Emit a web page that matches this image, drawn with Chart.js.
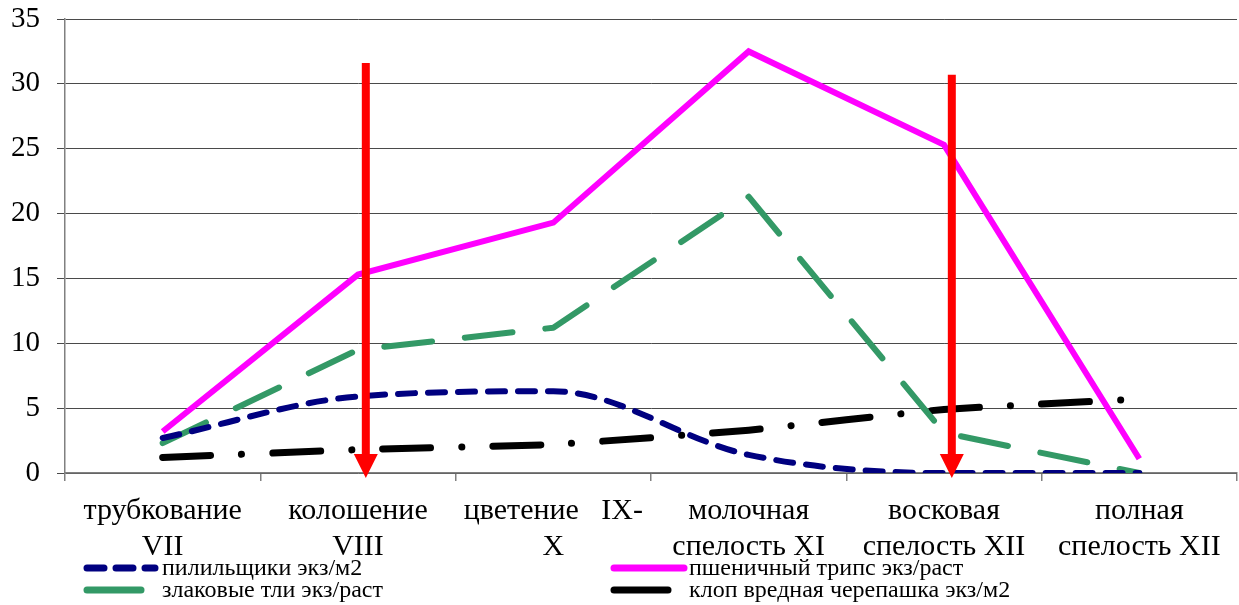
<!DOCTYPE html>
<html lang="ru">
<head>
<meta charset="utf-8">
<title>Динамика численности вредителей пшеницы по фазам развития</title>
<script src="https://cdn.jsdelivr.net/npm/chart.js@4.4.1/dist/chart.umd.min.js"></script>
<style>
  html, body { margin: 0; padding: 0; background: #fff; }
  canvas { display: block; }
</style>
</head>
<body>
<canvas id="chart" width="1239" height="605"></canvas>
<script>
// Фазы развития растений (подписи оси X, многострочные)
const phases = [
  ['трубкование', 'VII'],
  ['колошение', 'VIII'],
  ['цветение   IX-', 'X'],
  ['молочная', 'спелость XI'],
  ['восковая', 'спелость XII'],
  ['полная', 'спелость XII']
];

// Численность вредителей по фазам
const sawflies = [2.7, 5.9, 6.3, 1.4, 0, 0];           // пилильщики экз/м2
const aphids   = [2.3, 9.5, 11.2, 21.3, 3.1, 0];       // злаковые тли экз/раст
const thrips   = [3.2, 15.3, 19.3, 32.5, 25.3, 1.1];   // пшеничный трипс экз/раст
const shieldBug = [1.2, 1.8, 2.2, 3.3, 4.9, 5.7];      // клоп вредная черепашка экз/м2

// Значения делений оси Y
const yTicks = [0, 5, 10, 15, 20, 25, 30, 35];

// Сроки обработок: фаза (индекс, со сдвигом) и верх стрелки по шкале Y
const treatmentPhase = [1.04, 4.04];
const treatmentTop   = [31.6, 30.7];

const serif = "'Liberation Serif', 'Times New Roman', serif";

// Стрелки обработок поверх линий
const arrowsPlugin = {
  id: 'treatmentArrows',
  afterDatasetsDraw(chart) {
    const { ctx, scales: { x, y } } = chart;
    ctx.save();
    treatmentPhase.forEach((p, i) => {
      const px = x.getPixelForValue(p);
      const top = y.getPixelForValue(treatmentTop[i]);
      const tip = y.getPixelForValue(0) + 5;
      const headH = 24, headW = 12;
      ctx.strokeStyle = '#ff0000';
      ctx.fillStyle = '#ff0000';
      ctx.lineWidth = 8;
      ctx.lineCap = 'butt';
      ctx.beginPath();
      ctx.moveTo(px, top);
      ctx.lineTo(px, tip - headH + 2);
      ctx.stroke();
      ctx.beginPath();
      ctx.moveTo(px - headW, tip - headH);
      ctx.lineTo(px + headW, tip - headH);
      ctx.lineTo(px, tip);
      ctx.closePath();
      ctx.fill();
    });
    ctx.restore();
  }
};

// Легенда в две колонки под осью X
const legendPlugin = {
  id: 'twoColumnLegend',
  afterDraw(chart) {
    const { ctx } = chart;
    const ds = chart.data.datasets;
    const slots = [
      { idx: 0, x: 87, y: 568, len: 68 },
      { idx: 1, x: 87, y: 590, len: 54 },
      { idx: 2, x: 614, y: 568, len: 70 },
      { idx: 3, x: 614, y: 590, len: 54 }
    ];
    ctx.save();
    slots.forEach(s => {
      const d = ds[s.idx];
      ctx.strokeStyle = d.borderColor;
      ctx.lineWidth = 7;
      ctx.lineCap = 'round';
      ctx.setLineDash(d.legendDash || []);
      ctx.beginPath();
      ctx.moveTo(s.x, s.y);
      ctx.lineTo(s.x + s.len, s.y);
      ctx.stroke();
      ctx.setLineDash([]);
      ctx.fillStyle = '#000';
      ctx.font = '24px ' + serif;
      ctx.textBaseline = 'middle';
      ctx.textAlign = 'left';
      ctx.fillText(d.label, s.x + 75, s.y + 1);
    });
    ctx.restore();
  }
};

new Chart(document.getElementById('chart'), {
  type: 'line',
  data: {
    labels: phases,
    datasets: [
      {
        label: 'пилильщики экз/м2',
        data: sawflies,
        borderColor: '#000080',
        borderWidth: 6,
        borderDash: [17, 13],
        legendDash: [17, 12],
        borderCapStyle: 'round',
        borderJoinStyle: 'round',
        tension: 0.4,
        cubicInterpolationMode: 'monotone',
        pointRadius: 0,
        order: 1
      },
      {
        label: 'злаковые тли экз/раст',
        data: aphids,
        borderColor: '#339966',
        borderWidth: 6,
        borderDash: [48, 33],
        borderCapStyle: 'round',
        borderJoinStyle: 'round',
        tension: 0,
        pointRadius: 0,
        order: 3
      },
      {
        label: 'пшеничный трипс экз/раст',
        data: thrips,
        borderColor: '#ff00ff',
        borderWidth: 6,
        borderCapStyle: 'butt',
        borderJoinStyle: 'miter',
        tension: 0,
        pointRadius: 0,
        order: 2
      },
      {
        label: 'клоп вредная черепашка экз/м2',
        data: shieldBug,
        borderColor: '#000000',
        borderWidth: 7,
        borderDash: [48, 31, 0.1, 31],
        borderCapStyle: 'round',
        borderJoinStyle: 'round',
        tension: 0.1,
        pointRadius: 0,
        order: 4
      }
    ]
  },
  options: {
    responsive: false,
    animation: false,
    devicePixelRatio: 1,
    layout: { padding: { top: 19, right: 2, bottom: 50, left: 0 } },
    plugins: {
      legend: { display: false },
      tooltip: { enabled: false }
    },
    scales: {
      x: {
        offset: true,
        grid: {
          offset: true,
          drawOnChartArea: false,
          drawTicks: true,
          tickLength: 8,
          color: '#808080',
          lineWidth: 1.5
        },
        border: { color: '#808080', width: 1.5 },
        ticks: {
          color: '#000',
          font: { family: serif, size: 30, lineHeight: 1.17 },
          padding: 13,
          maxRotation: 0,
          autoSkip: false
        },
        afterFit(scale) { scale.height = 82; }
      },
      y: {
        min: 0,
        max: 35,
        afterBuildTicks(scale) { scale.ticks = yTicks.map(v => ({ value: v })); },
        grid: {
          color: '#4a4a4a',
          lineWidth: 1,
          drawTicks: true,
          tickLength: 8
        },
        border: { color: '#808080', width: 1.5 },
        ticks: {
          color: '#000',
          font: { family: serif, size: 29 },
          padding: 17
        },
        afterFit(scale) {
          scale.width = 65;
          scale.paddingTop = 0;
          scale.paddingBottom = 0;
        }
      }
    }
  },
  plugins: [arrowsPlugin, legendPlugin]
});
</script>
</body>
</html>
